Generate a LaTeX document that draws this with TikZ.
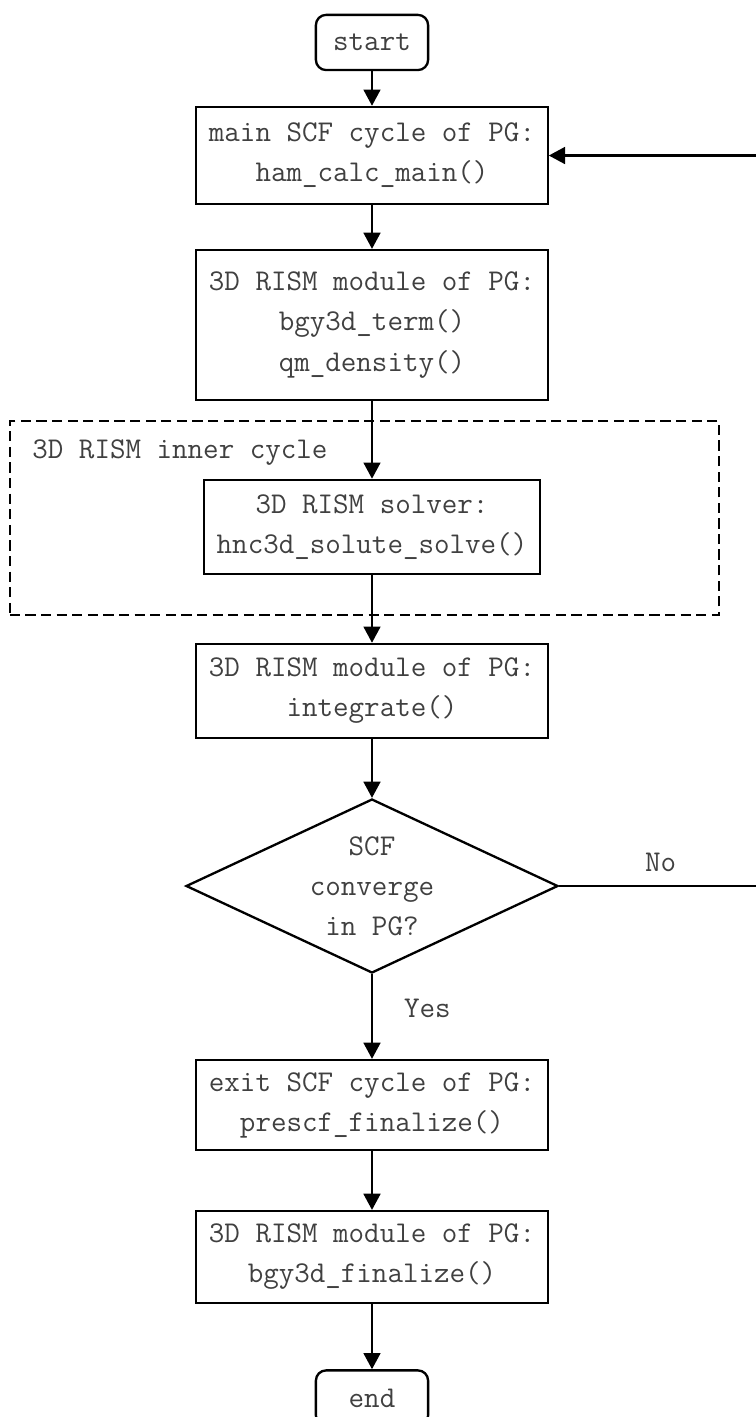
\documentclass[tikz,border=0pt]{standalone}
\usepackage{fontspec}
\usepackage{tikz}
\usetikzlibrary{arrows.meta,shapes.geometric}

\tikzset{
  every node/.style={font=\ttfamily\fontsize{14.3}{19}\selectfont, text=black!75},
  box/.style={draw=black, line width=1.1pt, align=center, inner xsep=0.21cm, minimum height=1.57cm},
  term/.style={draw=black, line width=1.1pt, rounded corners=0.17cm, minimum width=1.87cm, minimum height=0.92cm},
  decision/.style={diamond, draw=black, line width=1.1pt, align=center, aspect=2.14, inner sep=0pt, minimum width=6.2cm, minimum height=2.9cm},
  loopbox/.style={draw=black, line width=1.0pt, dash pattern=on 0.17cm off 0.09cm, minimum width=11.82cm, minimum height=3.23cm},
  flow/.style={-{Triangle[length=0.27cm,width=0.28cm]}, line width=1.1pt}
}

\begin{document}
\begin{tikzpicture}

\useasboundingbox (0,0) rectangle (12.6,-23.617);


% inner cycle frame first, so the arrows run over it
\node (inner) at (6.075,-8.633) [loopbox] {};

\node (innerlabel) at (0.533,-7.317) [anchor=north west, inner sep=0pt] {3D RISM inner cycle};



\node (start) at (6.2,-0.708) [term] {start};

\node (main) at (6.2,-2.592) [box, minimum height=1.62cm] {main SCF cycle of PG:\\ham\_calc\_main()};

\node (bgy) at (6.2,-5.417) [box, minimum height=2.5cm] {3D RISM module of PG:\\bgy3d\_term()\\qm\_density()};

\node (solver) at (6.2,-8.783) [box] {3D RISM solver:\\hnc3d\_solute\_solve()};

\node (integ) at (6.2,-11.517) [box] {3D RISM module of PG:\\integrate()};

\node (check) at (6.2,-14.767) [decision] {SCF\\converge\\in PG?};

\node (exit) at (6.2,-18.417) [box, minimum height=1.5cm] {exit SCF cycle of PG:\\prescf\_finalize()};

\node (final) at (6.2,-20.95) [box, minimum height=1.53cm] {3D RISM module of PG:\\bgy3d\_finalize()};

\node (end) at (6.2,-23.3) [term] {end};



\draw [flow] (start) -- (main);
\draw [flow] (main) -- (bgy);
\draw [flow] (bgy) -- (solver);
\draw [flow] (solver) -- (integ);
\draw [flow] (integ) -- (check);

\draw [flow] (check) -- node [right=0.4cm, pos=0.4] {Yes} (exit);

\draw [flow] (exit) -- (final);
\draw [flow] (final) -- (end);


% back to the top of the SCF cycle
\coordinate (back) at (12.7,-14.767);

\draw [flow] (check.east) -- node [above=0.1cm] {No} (back) |- (main.east);


\end{tikzpicture}
\end{document}
